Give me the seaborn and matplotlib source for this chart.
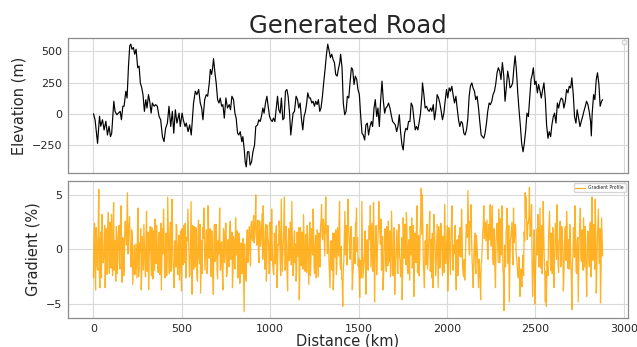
import numpy as np
import pandas as pd
import matplotlib
matplotlib.use("Agg")
import matplotlib.pyplot as plt
import seaborn as sns

# Elevation profile samples: distance along the road (km) and elevation (m)
elev_km = [0, 9, 23, 34, 41, 51, 60, 70, 79, 88, 96, 103, 115, 122, 132, 141, 151, 158,
           166, 173, 183, 190, 198, 205, 211, 218, 226, 233, 241, 250, 258, 265, 273, 280,
           288, 296, 303, 311, 318, 326, 333, 343, 352, 361, 371, 380, 390, 399, 408, 418,
           427, 437, 446, 454, 463, 472, 484, 491, 501, 508, 518, 525, 535, 544, 553,
           557, 566, 576, 585, 595, 604, 612, 619, 629, 638, 646, 655, 661, 668, 674, 679,
           687, 694, 702, 710, 717, 725, 732, 740, 749, 758, 768, 775, 783, 792, 800, 807,
           815, 822, 830, 839, 845, 853, 858, 864, 871, 879, 886, 894, 902, 911, 918, 928,
           935, 943, 950, 958, 965, 973, 981, 988, 996, 1003, 1011, 1018, 1026, 1033, 1041,
           1048, 1056, 1063, 1071, 1078, 1086, 1094, 1101, 1109, 1116,
           1129, 1137, 1146, 1154, 1161, 1169, 1176, 1184, 1191, 1199, 1206, 1212, 1220,
           1227, 1235, 1242, 1250, 1257, 1265, 1272, 1280, 1287, 1295, 1302, 1310, 1317,
           1325, 1333, 1340, 1348, 1355, 1363, 1370, 1378, 1385, 1393, 1398, 1406, 1413,
           1421, 1429, 1436, 1444, 1451, 1459, 1466, 1474, 1481, 1489, 1496, 1504, 1511,
           1519, 1526, 1534, 1541, 1549, 1556, 1564, 1572, 1579, 1587, 1594, 1602, 1609,
           1617, 1624, 1632, 1639, 1647, 1654, 1662, 1669, 1677, 1684, 1692,
           1700, 1707, 1715, 1722, 1730, 1737, 1745, 1752, 1760, 1767, 1775, 1782, 1790,
           1797, 1805, 1812, 1820, 1827, 1835, 1843, 1850, 1858, 1861, 1869, 1876, 1884,
           1891, 1899, 1907, 1914, 1922, 1929, 1937, 1944, 1952, 1959, 1967, 1974, 1982,
           1989, 1997, 2004, 2012, 2019, 2027, 2034, 2042, 2050, 2057, 2065, 2072, 2080,
           2087, 2095, 2102, 2110, 2117, 2125, 2132, 2140, 2147, 2155, 2162, 2170, 2178,
           2185, 2193, 2200, 2208, 2215, 2223, 2230, 2238, 2245, 2253, 2260, 2268, 2275,
           2283, 2290, 2298, 2305, 2313, 2321, 2328, 2336, 2343, 2351, 2356, 2364, 2371,
           2379, 2385, 2392, 2400, 2407, 2415, 2422, 2430, 2437, 2445, 2452, 2460, 2467,
           2475, 2482, 2488, 2496, 2503, 2511, 2518, 2526, 2533, 2541, 2548, 2556, 2563,
           2571, 2578, 2586, 2593, 2601, 2608, 2616, 2624, 2631, 2639, 2646, 2654, 2661,
           2669, 2676, 2684, 2691, 2699, 2706, 2714, 2721, 2729, 2736, 2744, 2752, 2759,
           2767, 2774, 2782, 2789, 2797, 2804, 2812, 2816, 2821, 2829, 2836, 2844, 2851,
           2859, 2866, 2874, 2880]

elev_m = [0, -48, -237, -20, -100, -48, -130, -60, -170, -100, -183, -156, 100, 19, -8, 5,
          19, -48, 60, 60, 180, 126, 382, 543, 557, 516, 530, 476, 516, 368, 382, 247, 207,
          153, 19, 113, 46, 153, 100, 5, 86, 60, 73, 60, -22, -48, -183, -223, -116, -75,
          60, -102, 19, -156, 32, -75, 5, -102, 5, -48, -102, -75, -143, -89, -170,
          -89, 86, 180, 153, 194, 86, 46, -48, 113, 153, 140, 247, 355, 315, 368, 441,
          328, 247, 113, 86, 126, 60, 73, -35, 126, 46, 73, 32, 140, 113, 5, -35,
          -156, -170, -143, -223, -183, -290, -385, -425, -304, -304, -411, -385, -304, -250, -102, -89,
          -48, -62, -22, 46, 5, 86, 140, 60, -22, -48, -62, -35, -62, 32, 140,
          32, 5, 126, -48, -35, 180, 194, 140, 5, -170,
          5, 19, 140, 113, 46, 86, -35, -129, -22, 19, 86, 167, 126,
          126, 86, 100, 60, 100, 73, 113, 19, 46, 140, 247, 355, 463,
          557, 503, 449, 476, 436, 409, 315, 301, 355, 409, 476, 368, 86,
          -8, 19, 140, 126, 247, 368, 355, 234, 301, 274, 194, 153, -8,
          -156, -170, -210, -89, -75, -170, -102, -62, -102, 46, 113, -22, 46,
          -102, 100, 261, 113, 5, 46, 60, 86, 46, -8, -62,
          -75, -89, -143, -102, -8, -143, -250, -290, -156, -116, -129, -62, -62,
          86, 60, -35, -129, -102, -129, -62, 5, 153, 247, 153, 46, 60,
          32, 19, 46, 19, 73, -48, 32, 153, 126, 86, 19, -48, 5,
          100, 194, 126, 207, 180, 220, 153, 86, 140, 46, -48, -102, -62,
          -75, -156, -170, -129, -48, 140, 220, 247, 207, 180, 113, 140, 46,
          -62, -170, -183, -196, -156, -75, 19, 86, 73, 100, 153, 180, 234,
          328, 368, 341, 274, 409, 301, 100, 220, 341, 274, 207, 220, 247,
          382, 463, 355, 167, 32, -102, -237, -304, -237, -129, 5, -22, 113,
          274, 315, 368, 234, 261, 167, 234, 180, 126, 194, 247, 113, -89,
          -196, -143, -183, -89, -22, 5, -75, 86, 46, 100, 126, 113, 46,
          100, 194, 167, 220, 207, 288, 153, -22, -75, 32, -35, -102, -62,
          -22, 19, 60, 100, 73, 19, -62, -177, 5, 153, 113, 274, 328,
          234, 60, 100, 113]

# Road gradient (%), sampled every 6 km from 0 to 2880 km
GRADIENT_STEP_KM = 6
gradient_pct = [
    -2.6, 2.4, -3.7, 0.8, -1.9, 5.5, -3.5, 1.6, 3.2, -1.2,
    -0.5, -3.5, 1.9, -1.4, 3.4, -2.2, 0.6, 3.2, -2.4, 4.3,
    -1.0, -2.9, 1.5, -0.3, 2.2, -1.8, 4.0, -3.0, 0.9, -1.6,
    2.6, 0.4, 5.2, 1.1, 3.0, -0.6, 1.8, -3.2, -0.9, -2.3,
    0.5, -2.6, 3.8, -1.7, -0.2, -3.7, 1.2, -1.9, 0.3, -2.5,
    3.5, -1.1, -3.7, 0.9, -0.4, 2.0, -2.7, 1.4, 2.8, -1.3,
    0.7, -2.1, 1.6, -0.8, -3.7, 1.9, 3.7, -1.5, 0.2, -2.4,
    4.8, -0.9, 1.3, -2.0, 4.6, -1.4, -3.5, 0.8, 2.3, -1.7,
    0.4, -2.8, 1.7, -3.8, 0.9, 2.2, -1.2, -2.6, 1.1, 3.7,
    -0.7, -2.3, 4.4, -4.1, 1.0, 2.1, -1.6, 0.5, -2.9, 2.7,
    -1.3, -4.0, 0.8, 2.0, 3.8, -1.9, 0.3, -2.2, 4.0, -0.8,
    1.9, -2.5, 0.6, -4.1, 2.3, -1.0, 1.4, -2.7, -0.4, 3.8,
    -1.8, 0.7, -3.7, 1.6, -0.5, 2.4, -2.0, 0.9, -1.3, 2.6,
    -0.9, -3.5, 1.2, -1.7, 2.9, 0.2, -2.6, 1.5, -3.1, 0.6,
    -2.2, 1.0, -5.7, -1.4, -2.9, 1.8, -0.6, 2.1, -1.5, 2.6,
    0.8, 3.1, 1.5, 5.0, 0.4, 2.7, -1.2, 2.4, 1.0, 3.3,
    4.0, -0.5, 1.7, -2.9, 2.2, 0.6, -1.8, 1.3, 3.7, -1.4,
    -2.3, 0.9, 1.8, -3.5, 0.5, 2.6, -1.1, 4.6, -2.0, 0.7,
    4.8, -1.6, 0.3, -3.8, 1.9, -0.7, 2.2, 4.4, -2.4, 0.8,
    -1.2, -2.9, 1.6, -0.4, -4.6, 2.0, -1.5, 0.9, 3.2, -0.8,
    1.4, -2.1, 0.6, -3.2, 2.5, -0.9, 1.2, 3.7, -1.7, 0.3,
    -2.6, 1.8, -2.5, 0.4, 2.1, 4.1, 0.9, 2.6, -0.6, 4.8,
    1.3, 2.2, -1.0, -3.5, 0.8, -1.9, -3.7, 1.5, -0.7, -2.3,
    2.0, -0.6, 4.4, -1.8, -2.7, -5.2, -1.1, 3.5, 0.2, -1.4,
    4.6, 1.3, -0.9, 2.1, -3.7, -1.6, 0.8, 2.4, 3.8, 1.1,
    -0.8, -4.4, -1.5, 4.4, -2.6, -1.2, 1.7, -4.1, 0.9, -1.9,
    2.2, 4.0, 0.4, -1.7, 4.3, -4.8, 1.0, -2.3, 0.6, 4.4,
    1.6, 2.8, -1.4, -3.7, -0.2, 1.9, -2.0, 0.7, 2.6, -1.1,
    -2.5, 3.5, -1.3, 0.5, -4.1, -0.6, 1.8, -2.2, 2.3, -1.0,
    -2.0, -4.6, 2.9, -0.8, 1.4, 3.4, -1.9, 0.6, -2.8, 1.2,
    2.9, -0.9, -4.3, 1.5, -1.2, 4.0, 0.3, -2.4, 1.7, 5.6,
    5.0, -1.5, -3.5, 0.8, 2.1, -1.8, 0.4, 3.5, -1.2, -2.6,
    -3.5, 3.2, 0.6, -1.7, 2.3, -3.5, 0.9, -0.8, 1.9, -2.4,
    0.5, 4.1, -1.3, 0.8, -3.8, 2.0, -0.7, 1.4, 4.0, -1.9,
    -0.4, 2.2, -3.7, 0.9, -2.1, -0.6, 1.5, 3.7, -1.6, -2.5,
    -2.8, 0.7, 1.8, 5.4, 0.2, 2.6, 4.1, -1.1, -3.5, 0.6,
    -1.4, 1.3, -0.5, -3.5, -1.9, -4.6, -1.0, 1.6, 4.0, 2.1,
    0.8, 2.7, -0.9, 1.9, 4.1, 0.3, 4.0, -1.4, 0.9, -3.5,
    1.7, 0.4, 3.7, -1.2, 2.2, 4.0, -1.8, -5.6, -0.7, 1.5,
    3.8, -1.3, -4.8, 0.9, 1.8, -0.6, 3.8, 1.2, 2.0, -0.9,
    -2.3, -0.7, -4.3, -1.8, -3.4, -0.5, 1.6, 5.2, 4.8, 0.9,
    2.4, 5.7, 1.3, 4.1, -4.3, 0.7, -5.0, -1.2, 1.9, 3.2,
    -1.6, 3.8, 0.5, -2.2, 4.4, -0.8, -4.8, -5.2, -1.5, 1.1,
    3.5, -1.9, 0.6, 2.0, -3.5, 0.4, 1.7, 4.1, -1.3, 0.8,
    2.6, -0.9, 1.2, -3.8, 0.5, 2.1, 3.5, -1.7, 0.9, 2.3,
    -1.4, -5.5, -0.6, 1.8, 4.0, -2.0, 0.7, -4.8, 1.3, 3.8,
    -1.1, 0.5, 2.9, -1.6, 1.0, -4.3, 1.7, -0.8, 2.2, -2.5,
    4.8, -1.0, 1.5, 4.6, -4.0, 0.8, 3.7, -1.3, -4.9, 2.9,
    -0.6,
]

# Gradient (%) halfway between those samples, at 3, 9, 15, ... 2877 km
gradient_mid_pct = [
    1.2, -2.1, 2.0, -1.5, 2.4, -2.0, 0.9, -2.6, 1.7, -0.8,
    2.2, -1.1, -2.3, 1.8, -0.9, 2.5, -1.7, -0.6, 2.0, -1.9,
    0.8, 2.1, -2.2, 1.4, -1.3, 2.6, -0.7, 1.1, -2.4, 1.9,
    1.5, 2.8, -0.4, 2.2, 0.7, -1.6, 1.3, -2.1, 0.4, -1.8,
    -1.2, 1.7, -2.5, 0.6, 1.9, -2.2, -0.5, 2.3, -1.4, 0.9,
    -2.0, 1.6, -0.8, 2.1, -2.4, 0.5, 1.7, -1.9, 0.3, 2.2,
    -1.5, 0.8, -2.3, 2.4, -1.0, -0.4, 2.0, -2.6, 1.5, -0.7,
    1.8, -2.2, 2.5, -0.6, 1.2, -2.0, 0.7, -1.6, 2.1, -2.3,
    1.3, -0.5, -2.1, 1.9, -1.4, 0.4, 2.4, -2.2, 0.8, 1.6,
    -2.5, 1.2, -0.9, 2.2, -1.8, 0.6, 2.0, -2.3, 1.4, -0.7,
    2.3, -1.5, -2.2, 1.0, 2.6, -0.8, 1.8, -1.7, 2.2, 0.9,
    -1.4, 1.7, -2.4, 0.5, -1.1, 2.3, -2.0, 0.8, 1.5, -1.9,
    0.6, -2.2, 1.9, -1.2, 2.4, -2.5, 0.4, -1.6, 2.1, -0.9,
    1.6, -2.3, 0.9, -1.8, -0.5, 1.7, -2.4, 0.2, -1.5, -2.0,
    -1.3, -2.5, 0.5, -1.9, 0.8, -1.2, 1.6, -0.3, 2.2, 1.0,
    2.4, 0.6, 2.8, 1.2, 1.9, -0.4, 2.6, 0.3, 2.2, -0.9,
    1.3, -1.8, 2.3, -0.6, 1.1, -2.2, 2.5, -1.0, 0.6, -2.1,
    1.5, -1.3, 2.2, -2.0, 0.4, 1.9, -2.4, 1.2, -0.7, 2.4,
    -1.9, 2.1, -2.3, 0.6, -1.0, 2.5, -1.4, 1.0, -2.1, 1.7,
    0.5, -2.2, -0.6, 2.0, -2.3, 0.7, 1.6, -1.8, 1.1, -2.0,
    -0.8, 2.2, -1.5, 1.4, -2.4, 1.9, -0.5, 2.0, -2.2, 1.3,
    -1.1, 0.3, 1.5, -1.6, 2.6, 1.2, 2.8, 0.9, 2.4, 1.6,
    -0.4, 1.1, -2.2, 0.7, -1.7, 1.5, -2.5, -0.3, 1.8, -1.4,
    0.8, 2.5, -1.2, 0.3, -2.8, -1.9, 1.4, -0.5, 2.2, 1.0,
    2.0, -0.7, 1.9, 0.4, -2.2, 1.1, -1.3, 2.3, -0.2, -1.5,
    -2.4, -1.0, -2.6, 1.2, -1.9, -0.5, -2.1, 0.6, -1.2, 1.4,
    0.9, -1.6, 2.4, -2.0, 1.3, -1.1, 2.2, -0.4, 1.8, 2.3,
    0.5, -1.9, 1.2, -2.3, 1.6, -0.8, 2.1, -1.5, 0.4, 1.7,
    -1.8, 1.0, -2.4, 2.0, -1.2, 0.7, -2.1, 1.5, -0.6, -2.5,
    1.1, -2.0, 0.4, 2.3, -1.4, 1.8, -2.2, 0.9, 2.1, -0.5,
    -1.7, 2.2, -1.0, 0.6, 2.5, -2.1, 1.3, -0.9, 2.7, 1.4,
    1.9, -2.2, 0.7, -1.4, 2.3, -0.6, 1.8, -2.0, 0.9, 1.5,
    -1.1, 1.6, -2.4, 0.5, -0.8, 2.1, -1.7, 2.4, -0.3, 1.2,
    -2.1, 1.8, -0.6, 2.2, -1.5, 0.9, -2.3, 2.5, -1.0, 0.4,
    1.7, -1.9, 0.8, -2.4, 1.3, 2.0, -0.7, 1.6, -2.2, -0.9,
    -1.4, 2.3, 1.1, 2.7, -0.5, 2.0, 0.8, -2.1, -0.9, 1.5,
    -2.2, 0.6, -1.8, -0.9, -2.6, -1.3, 0.4, 2.2, 1.0, 2.5,
    1.8, -0.6, 2.3, 0.9, 1.4, 2.6, -0.8, 1.9, -2.0, 0.7,
    2.4, -1.2, 1.6, 2.8, -0.5, 1.9, -2.3, 0.4, -1.6, 2.1,
    -0.9, 2.2, -1.7, 1.2, 2.5, -1.4, 0.6, 2.3, -0.4, -1.6,
    -2.6, -1.5, -2.2, -3.0, -1.2, -2.4, 0.8, 2.9, 1.7, 2.5,
    3.0, 1.2, 2.4, -1.6, -2.3, 1.8, -2.7, 0.6, -0.5, 2.0,
    0.9, -1.7, 2.2, -0.4, 1.4, -2.5, -2.0, -1.1, -2.4, 2.3,
    -0.6, 1.5, -2.2, 0.8, -1.3, 2.4, -0.9, 1.7, -2.1, 1.0,
    -1.6, 2.1, -0.4, -2.3, 1.9, -1.0, 2.2, 0.5, -1.8, 1.3,
    -2.4, -1.2, 2.0, -0.7, 1.5, -2.2, 1.1, -2.0, 2.4, -0.6,
    1.8, -1.9, 0.6, 2.1, -2.3, -0.8, 1.4, -1.6, 2.5, -0.4,
    1.2, 2.3, -1.8, 1.7, -2.1, 2.4, -0.5, 1.9, -2.2, 1.1,
]

elev_df = pd.DataFrame({"Distance (km)": elev_km, "Elevation (m)": elev_m})
grad_km = np.arange(len(gradient_pct)) * GRADIENT_STEP_KM
mid_km = np.arange(len(gradient_mid_pct)) * GRADIENT_STEP_KM + GRADIENT_STEP_KM / 2
grad_df = pd.DataFrame({
    "Distance (km)": np.concatenate([grad_km, mid_km]),
    "Gradient (%)": gradient_pct + gradient_mid_pct,
}).sort_values("Distance (km)")

sns.set_theme(style="whitegrid")
plt.rcParams["font.family"] = ["DejaVu Sans"]
plt.rcParams["axes.edgecolor"] = "#8c8c8c"
plt.rcParams["grid.color"] = "#d9d9d9"
plt.rcParams["grid.linewidth"] = 0.8

fig = plt.figure(figsize=(6.37, 3.47), dpi=100)
ax_top = fig.add_axes([0.1068, 0.5014, 0.8792, 0.3891])
ax_bot = fig.add_axes([0.1068, 0.0836, 0.8792, 0.3948], sharex=ax_top)

sns.lineplot(data=elev_df, x="Distance (km)", y="Elevation (m)", ax=ax_top,
             color="black", linewidth=0.85)
ax_top.set_xlabel("")
ax_top.tick_params(axis="x", labelbottom=False)
ax_top.set_ylabel("Elevation (m)", fontsize=10.5)
ax_top.set_yticks([-250, 0, 250, 500])
ax_top.set_title("Generated Road", fontsize=17.5, pad=3)
ax_top.legend(handles=[], fontsize=3.2, loc="upper right")

sns.lineplot(data=grad_df, x="Distance (km)", y="Gradient (%)", ax=ax_bot,
             color="orange", linewidth=0.9, alpha=0.85, label="Gradient Profile")
ax_bot.set_xlabel("Distance (km)", fontsize=10.5, labelpad=0)
ax_bot.set_ylabel("Gradient (%)", fontsize=10.5)
ax_bot.set_yticks([-5, 0, 5])
ax_bot.set_xticks([0, 500, 1000, 1500, 2000, 2500, 3000])
ax_bot.legend(fontsize=3.3, loc="upper right")

for ax in (ax_top, ax_bot):
    ax.tick_params(labelsize=8, length=2, pad=2)
    for s in ax.spines.values():
        s.set_linewidth(0.9)

fig.savefig("out.png", dpi=100)
